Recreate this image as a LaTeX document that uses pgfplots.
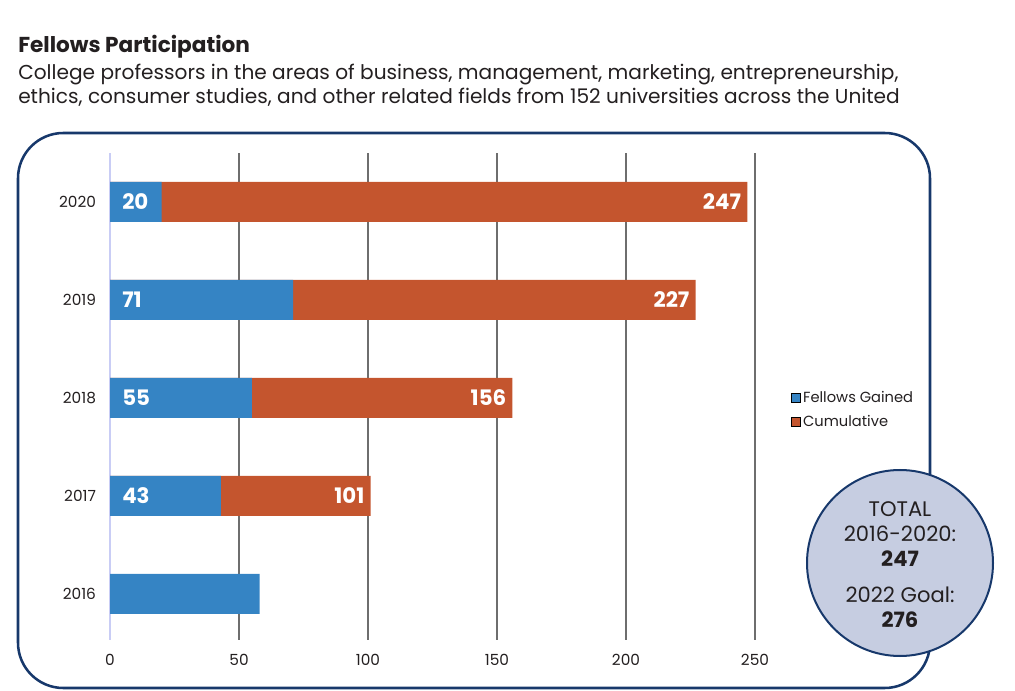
\documentclass[border=0pt]{standalone}
\usepackage{fontspec}
\setmainfont{Poppins}
\newfontfamily\pop{Poppins}
\usepackage{pgfplots}
\pgfplotsset{compat=1.18}
\definecolor{barblue}{HTML}{3584C4}
\definecolor{barorange}{HTML}{C4552E}
\definecolor{navy}{HTML}{17386B}
\definecolor{circfill}{HTML}{C6CDE1}
\definecolor{ylinecol}{HTML}{C9CDF5}
\definecolor{gridgray}{HTML}{6E6E6E}
\definecolor{txt}{HTML}{231F20}
\begin{document}
\begin{tikzpicture}[x=0.75pt,y=0.75pt]
\path[use as bounding box] (0,0) rectangle (1015,690);
\begin{scope}[shift={(0,690)}, yscale=-1]
\draw[navy, line width=1.9pt, rounded corners=34pt] (18,133) rectangle (930,688);
\node[anchor=base west, inner sep=0pt, text=txt, font=\fontsize{16.2}{18}\selectfont\bfseries] at (18,53) {Fellows Participation};
\node[anchor=base west, inner sep=0pt, text=txt, font=\fontsize{15.1}{17}\selectfont] at (18,80) {College professors in the areas of business, management, marketing, entrepreneurship,};
\node[anchor=base west, inner sep=0pt, text=txt, font=\fontsize{15.1}{17}\selectfont] at (18,104) {ethics, consumer studies, and other related fields from 152 universities across the United};
\end{scope}
\begin{axis}[
  at={(82.5pt,37.5pt)}, anchor=south west,
  scale only axis, width=483.75pt, height=365.25pt,
  xmin=0, xmax=250, ymin=-0.47, ymax=4.5,
  xtick={50,100,...,250}, extra x ticks={0}, extra x tick style={grid=none},
  xmajorgrids, grid style={color=gridgray, line width=0.8pt},
  ytick={0,...,4}, yticklabels={2016,2017,2018,2019,2020},
  axis lines*=left,
  x axis line style={draw=none},
  y axis line style={ylinecol, line width=1pt},
  major tick length=0pt,
  ticklabel style={font=\pop\fontsize{11.5}{13}\selectfont, text=txt},
  /pgf/number format/assume math mode=true,
  xticklabel style={yshift=-7pt},
  yticklabel style={xshift=-7pt},
  legend style={at={(1.049,0.472)}, anchor=west, draw=none, fill=none,
    font=\pop\fontsize{11}{13}\selectfont, text=txt, row sep=4pt,
    legend image code/.code={\fill[##1] (0pt,-3.4pt) rectangle (6.8pt,3.4pt);}},
  legend cell align=left,
  clip=false,
]
\addlegendimage{fill=barblue}
\addlegendentry{Fellows Gained}
\addlegendimage{fill=barorange}
\addlegendentry{Cumulative}
\addplot[xbar, bar width=30pt, bar shift=0pt, fill=barorange, draw=none, forget plot]
  coordinates {(247,4) (227,3) (156,2) (101,1)};
\addplot[xbar, bar width=30pt, bar shift=0pt, fill=barblue, draw=none, forget plot]
  coordinates {(20,4) (71,3) (55,2) (43,1) (58,0)};
\addplot[only marks, mark=none, forget plot,
  nodes near coords, point meta=explicit symbolic,
  nodes near coords style={anchor=west, xshift=9pt, inner sep=0pt, text=white, font=\pop\fontsize{16}{18}\selectfont\bfseries}]
  coordinates {(0,4)[20] (0,3)[71] (0,2)[55] (0,1)[43]};
\addplot[only marks, mark=none, forget plot,
  nodes near coords, point meta=explicit symbolic,
  nodes near coords style={anchor=east, xshift=-4.5pt, inner sep=0pt, text=white, font=\pop\fontsize{16}{18}\selectfont\bfseries}]
  coordinates {(247,4)[247] (227,3)[227] (156,2)[156] (101,1)[101]};
\end{axis}
\begin{scope}[shift={(0,690)}, yscale=-1]
\draw[navy, fill=circfill, line width=1.5pt] (900,563) circle [radius=93];
\begin{scope}[every node/.style={anchor=base, inner sep=0pt, text=txt, font=\pop\fontsize{15.8}{18}\selectfont}]
\node at (900,517) {TOTAL};
\node at (900,542) {2016-2020:};
\node[font=\pop\fontsize{15.8}{18}\selectfont\bfseries] at (900,567) {247};
\node at (900,602) {2022 Goal:};
\node[font=\pop\fontsize{15.8}{18}\selectfont\bfseries] at (900,627) {276};
\end{scope}
\end{scope}
\end{tikzpicture}
\end{document}
